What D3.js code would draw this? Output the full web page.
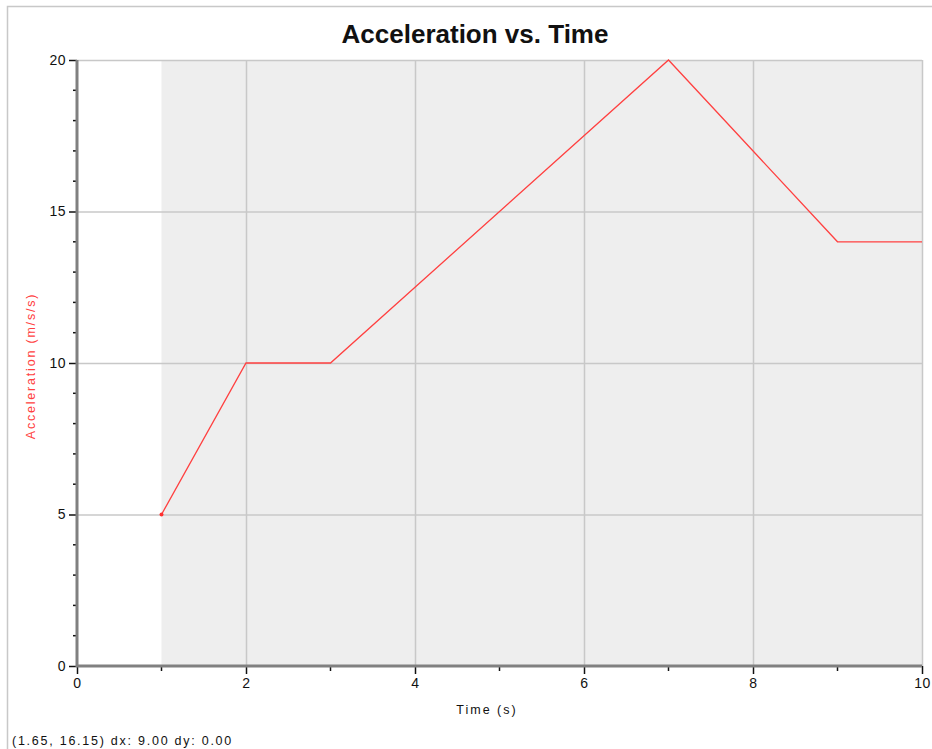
<!DOCTYPE html>
<html><head><meta charset="utf-8">
<script src="https://cdn.jsdelivr.net/npm/d3@7"></script>
<style>body{margin:0;background:#fff}svg{display:block}</style>
</head><body>
<svg id="c" width="932" height="749"></svg>
<script>
const times = [1, 2, 3, 7, 9, 10];
const accel = [5, 10, 10, 20, 14, 14];
const xTicks = [0, 2, 4, 6, 8, 10];
const yTicks = [0, 5, 10, 15, 20];
const xMinor = [1, 3, 5, 7, 9];
const yMinor = [1,2,3,4,6,7,8,9,11,12,13,14,16,17,18,19];
const shadeRange = [1, 10];
const title = "Acceleration vs. Time";
const xLabel = "Time (s)";
const yLabel = "Acceleration (m/s/s)";
const statusText = "(1.65, 16.15) dx: 9.00 dy: 0.00";

const svg = d3.select("#c");
const L = 77, R = 922, T = 60, B = 666;
const x = d3.scaleLinear().domain([0, 10]).range([L, R]);
const y = d3.scaleLinear().domain([0, 20]).range([B, T]);
const font = "'Liberation Sans', Arial, sans-serif";

// outer frame
svg.append("rect").attr("x", 7.5).attr("y", 6.5).attr("width", 940).attr("height", 760)
  .attr("fill", "none").attr("stroke", "#c8c8c8").attr("stroke-width", 1.5);

// shaded region
svg.append("rect").attr("x", x(shadeRange[0])).attr("y", T)
  .attr("width", x(shadeRange[1]) - x(shadeRange[0])).attr("height", B - T)
  .attr("fill", "#eeeeee");

// grid
svg.append("g").selectAll("line").data(xTicks.filter(d => d > 0)).join("line")
  .attr("x1", d => x(d) + 0.5).attr("x2", d => x(d) + 0.5).attr("y1", T).attr("y2", B)
  .attr("stroke", "#c8c8c8").attr("stroke-width", 1.5);
svg.append("g").selectAll("line").data(yTicks.filter(d => d > 0)).join("line")
  .attr("y1", d => y(d) + 0.5).attr("y2", d => y(d) + 0.5).attr("x1", L).attr("x2", R)
  .attr("stroke", "#c8c8c8").attr("stroke-width", 1.5);

// axes
const xAxis = d3.axisBottom(x).tickValues(xTicks).tickSize(8).tickPadding(4).tickFormat(d3.format("d"));
const gx = svg.append("g").attr("transform", `translate(0,${B})`).call(xAxis);
gx.select(".domain").remove();
gx.selectAll(".tick line").attr("stroke", "#111").attr("stroke-width", 1.5);
gx.selectAll("text").attr("font-family", font).attr("font-size", 14).attr("letter-spacing", 0.5).attr("fill", "#111");
svg.append("g").selectAll("line").data(xMinor).join("line")
  .attr("x1", d => x(d)).attr("x2", d => x(d)).attr("y1", B).attr("y2", B + 5)
  .attr("stroke", "#111").attr("stroke-width", 1.5);

const yAxis = d3.axisLeft(y).tickValues(yTicks).tickSize(8).tickPadding(3).tickFormat(d3.format("d"));
const gy = svg.append("g").attr("transform", `translate(${L},0)`).call(yAxis);
gy.select(".domain").remove();
gy.selectAll(".tick line").attr("stroke", "#111").attr("stroke-width", 1.5);
gy.selectAll("text").attr("font-family", font).attr("font-size", 14).attr("letter-spacing", 0.5).attr("fill", "#111");
svg.append("g").selectAll("line").data(yMinor).join("line")
  .attr("y1", d => y(d)).attr("y2", d => y(d)).attr("x1", L - 4).attr("x2", L)
  .attr("stroke", "#111").attr("stroke-width", 1.5);

// axis lines
svg.append("line").attr("x1", L).attr("x2", L).attr("y1", T).attr("y2", B + 1)
  .attr("stroke", "#808080").attr("stroke-width", 3);
svg.append("line").attr("x1", L).attr("x2", R).attr("y1", B).attr("y2", B)
  .attr("stroke", "#808080").attr("stroke-width", 3);

// data line
const pts = times.map((t, i) => [t, accel[i]]);
svg.append("path").datum(pts)
  .attr("d", d3.line().x(d => x(d[0])).y(d => y(d[1])))
  .attr("fill", "none").attr("stroke", "#ff4040").attr("stroke-width", 1.3);
svg.append("circle").attr("cx", x(times[0])).attr("cy", y(accel[0])).attr("r", 2)
  .attr("fill", "#ff3030");

// texts
svg.append("text").attr("x", 475).attr("y", 43).attr("text-anchor", "middle")
  .attr("font-family", font).attr("font-weight", "bold").attr("font-size", 26).attr("fill", "#111").text(title);
svg.append("text").attr("x", 487).attr("y", 714).attr("text-anchor", "middle")
  .attr("font-family", font).attr("font-size", 12.5).attr("letter-spacing", 2).attr("fill", "#111").text(xLabel);
svg.append("text").attr("transform", `translate(35,${366}) rotate(-90)`).attr("text-anchor", "middle")
  .attr("font-family", font).attr("font-size", 12.5).attr("letter-spacing", 1.8).attr("fill", "#ff4040").text(yLabel);
svg.append("text").attr("x", 12).attr("y", 745)
  .attr("font-family", font).attr("font-size", 12.5).attr("letter-spacing", 1.75).attr("fill", "#111").text(statusText);
</script>
</body></html>
